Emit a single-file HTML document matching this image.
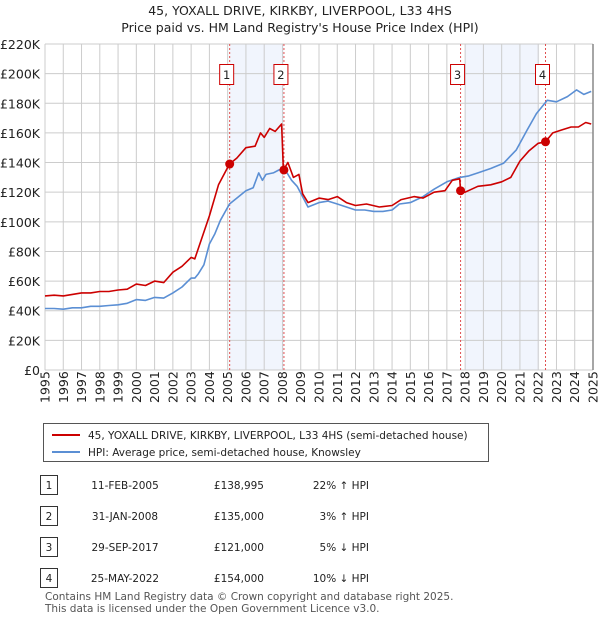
<!DOCTYPE html>
<html><head><meta charset="utf-8"><style>
body{margin:0;background:#fff;font-family:"Liberation Sans","DejaVu Sans",sans-serif;}
svg text{font-family:"DejaVu Sans","Liberation Sans",sans-serif;}
</style></head><body>
<svg id="chart" width="600" height="620" xmlns="http://www.w3.org/2000/svg">
<text x="300" y="15" text-anchor="middle" font-size="12.5" fill="#222">45, YOXALL DRIVE, KIRKBY, LIVERPOOL, L33 4HS</text>
<text x="300" y="32" text-anchor="middle" font-size="12.5" fill="#222">Price paid vs. HM Land Registry's House Price Index (HPI)</text>
<g id="shade"></g><g id="grid"></g><g id="ylab"></g><g id="xlab"></g><g id="vlines"></g>
<g id="series"></g><g id="marks"></g>
<g>
<rect x="43.5" y="423.5" width="445" height="38" fill="#fff" stroke="#555"/>
<line x1="52" y1="435" x2="80" y2="435" stroke="#cc0000" stroke-width="2"/>
<text x="88" y="439" font-size="10.5" fill="#222">45, YOXALL DRIVE, KIRKBY, LIVERPOOL, L33 4HS (semi-detached house)</text>
<line x1="52" y1="452" x2="80" y2="452" stroke="#5b8fd4" stroke-width="2"/>
<text x="88" y="456" font-size="10.5" fill="#222">HPI: Average price, semi-detached house, Knowsley</text>
</g>
<g id="table" font-size="10.5" fill="#222"></g>
<text x="45" y="600" font-size="10.5" fill="#555">Contains HM Land Registry data © Crown copyright and database right 2025.</text>
<text x="45" y="612" font-size="10.5" fill="#555">This data is licensed under the Open Government Licence v3.0.</text>
</svg>
<script>
const hpiYears=[1995,1995.5,1996,1996.5,1997,1997.5,1998,1998.5,1999,1999.5,2000,2000.5,2001,2001.5,2002,2002.5,2003,2003.2,2003.4,2003.7,2004,2004.3,2004.6,2005.1,2005.5,2006,2006.4,2006.7,2006.9,2007.1,2007.5,2007.8,2008.1,2008.5,2008.8,2009.1,2009.4,2010,2010.5,2011,2011.5,2012,2012.5,2013,2013.5,2014,2014.4,2015,2015.7,2016.3,2017,2017.7,2018.2,2018.7,2019.4,2020.1,2020.8,2021.4,2021.9,2022.5,2023,2023.6,2024.1,2024.5,2024.9];
const hpiValues=[41.5,41.5,41,42,42,43,43,43.5,44,45,47.5,47,49,48.5,52,56,62,62,65,71,85,92,101,112,116,121,123,133,128,132,133,135,136,128,124,117,110,113,114,112,110,108,108,107,107,108,112,113,117,122,127,130,131,133,136,139.5,148.5,162,173,182,181,184.5,189,186,188];
const priceYears=[1995,1995.5,1996,1996.5,1997,1997.5,1998,1998.5,1999,1999.5,2000,2000.5,2001,2001.5,2002,2002.5,2003,2003.2,2003.5,2004,2004.5,2005.1,2005.5,2006,2006.5,2006.8,2007,2007.3,2007.6,2007.95,2008.05,2008.3,2008.6,2008.9,2009.1,2009.4,2010,2010.5,2011,2011.5,2012,2012.6,2013.3,2014,2014.5,2015.2,2015.7,2016.3,2016.9,2017.3,2017.7,2017.75,2018,2018.7,2019.4,2020,2020.5,2021,2021.5,2022,2022.4,2022.8,2023.3,2023.8,2024.2,2024.6,2024.9];
const priceValues=[50,50.5,50,51,52,52,53,53,54,54.5,58,57,60,59,66,70,76,75,86,104,125,139,143,150,151,160,157,163,161,166,135,140,130,132,119,113,116,115,117,113,111,112,110,111,115,117,116,120,121,128,129,121,120,124,125,127,130,141,148,153,154,160,162,164,164,167,166];
const saleLabels=["1","2","3","4"];
const saleYears=[2005.11,2008.08,2017.75,2022.4];
const salePrices=[138995,135000,121000,154000];
const saleDates=["11-FEB-2005","31-JAN-2008","29-SEP-2017","25-MAY-2022"];
const saleDeltas=["22% ↑ HPI","3% ↑ HPI","5% ↓ HPI","10% ↓ HPI"];
const yTicks=[0,20,40,60,80,100,120,140,160,180,200,220];
const xTicks=[1995,1996,1997,1998,1999,2000,2001,2002,2003,2004,2005,2006,2007,2008,2009,2010,2011,2012,2013,2014,2015,2016,2017,2018,2019,2020,2021,2022,2023,2024,2025];

const X0=45,X1=593,Y0=370,Y1=44;
const xs=y=>X0+(y-1995)/30*(X1-X0);
const ys=v=>Y0-v/220*(Y0-Y1);
const NS="http://www.w3.org/2000/svg";
function mk(t,a,p){const e=document.createElementNS(NS,t);for(const k in a)e.setAttribute(k,a[k]);p.appendChild(e);return e;}
const g=id=>document.getElementById(id);

[[saleYears[0],saleYears[1]],[2018,2022.05]].forEach(([a,b])=>{
 const r=mk('rect',{x:xs(a),y:Y1,width:xs(b)-xs(a),height:Y0-Y1,fill:'#eef3fc',opacity:0.8},g('shade'));
 
 
});
yTicks.forEach(t=>{
 const l=mk('line',{x1:X0,x2:X1,y1:ys(t),y2:ys(t),stroke:'#cccccc','stroke-width':1},g('grid'));
 
 
 const tx=mk('text',{x:40,y:ys(t)+5,'text-anchor':'end','font-size':12.5,fill:'#222'},g('ylab'));
 tx.textContent=t===0?'£0':'£'+t+'K';
 
 
});
xTicks.forEach(t=>{
 const l=mk('line',{x1:xs(t),x2:xs(t),y1:Y1,y2:Y0,stroke:'#cccccc','stroke-width':1},g('grid'));
 
 
 const tx=mk('text',{transform:`translate(${xs(t)+4.5},${Y0+33}) rotate(-90)`,'font-size':12.5,fill:'#222'},g('xlab'));
 tx.textContent=t;
 
 
});
const edge=mk('line',{x1:X1,x2:X1,y1:Y1,y2:Y0,stroke:'#888','stroke-width':1.5},g('grid'));



function path(xv,yv,col,name){
 const d=xv.map((x,i)=>(i?'L':'M')+xs(x).toFixed(1)+','+ys(yv[i]).toFixed(1)).join('');
 const p=mk('path',{d:d,fill:'none',stroke:col,'stroke-width':1.6,'stroke-linejoin':'round'},g('series'));
 
 
}
path(hpiYears,hpiValues,'#5b8fd4','hpi-line');
path(priceYears,priceValues,'#cc0000','price-paid-line');

saleYears.forEach((y,i)=>{
 const l=mk('line',{x1:xs(y),x2:xs(y),y1:Y1,y2:Y0,stroke:'#e05050','stroke-width':1,'stroke-dasharray':'2,2'},g('vlines'));
 
 
 const bx=xs(y)-3-7;
 const r=mk('rect',{x:bx,y:64.5,width:14,height:20,fill:'#fff',stroke:'#cc0000'},g('marks'));
 
 
 const t=mk('text',{x:bx+7,y:79,'text-anchor':'middle','font-size':11.5,fill:'#222'},g('marks'));
 t.textContent=saleLabels[i];
 
 
 const c=mk('circle',{cx:xs(y),cy:ys(salePrices[i]/1000),r:4.5,fill:'#cc0000'},g('marks'));
 
 
 const ry=489+i*31;
 const b=mk('rect',{x:40.5,y:ry-13.5,width:17,height:19,fill:'#fff',stroke:'#333'},g('table'));
 
 
 const n=mk('text',{x:49,y:ry,'text-anchor':'middle'},g('table'));
 n.textContent=saleLabels[i];
 
 
 const d=mk('text',{x:125,y:ry,'text-anchor':'middle'},g('table'));
 d.textContent=saleDates[i];
 
 
 const p=mk('text',{x:264,y:ry,'text-anchor':'end'},g('table'));
 p.textContent='£'+salePrices[i].toLocaleString('en-GB');
 
 
 const h=mk('text',{x:369,y:ry,'text-anchor':'end'},g('table'));
 h.textContent=saleDeltas[i];
 
 
});
</script>
</body></html>
